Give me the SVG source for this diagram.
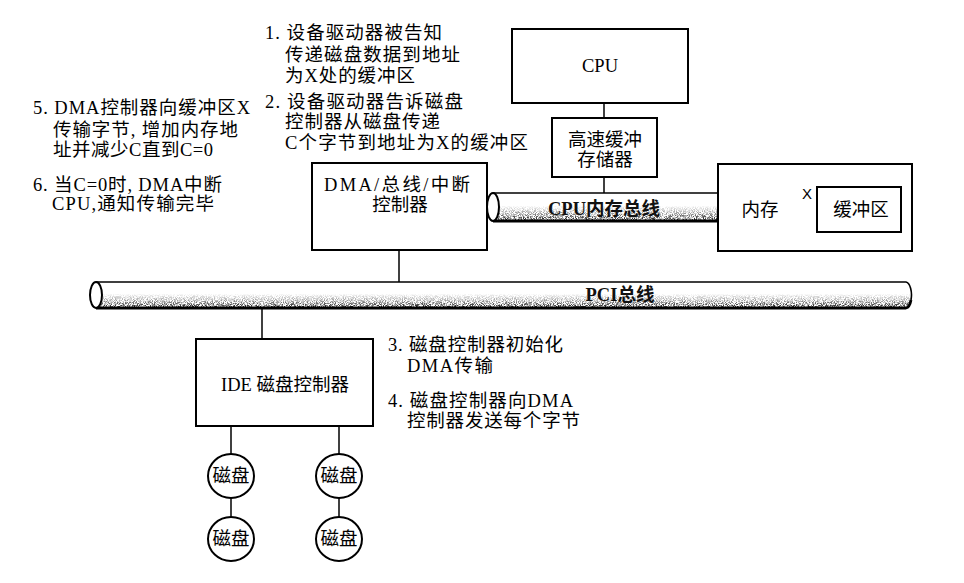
<svg xmlns="http://www.w3.org/2000/svg" width="964" height="583" viewBox="0 0 964 583">
<style>
.box{fill:#fff;stroke:#000;stroke-width:2}
.ln{stroke:#000;stroke-width:1.5;fill:none}
.t{font-family:"Liberation Serif","Noto Sans CJK SC",serif;font-size:18.5px;fill:#000}
.c{text-anchor:middle}
.bl{font-weight:bold;fill:#111}
.x{font-family:"Liberation Sans","Noto Sans CJK SC",sans-serif;font-size:15px;fill:#000}
.busline{stroke:#000;stroke-width:1.6;fill:none}
.busbot{stroke:#000;stroke-width:2.8;fill:none}
</style>
<defs>
<linearGradient id="shade" x1="0" y1="0" x2="0" y2="1">
<stop offset="0.45" stop-color="#000" stop-opacity="0"/>
<stop offset="0.75" stop-color="#000" stop-opacity="0.45"/>
<stop offset="1" stop-color="#000" stop-opacity="1"/>
</linearGradient>
<filter id="grain" x="0" y="0" width="100%" height="100%">
<feTurbulence type="fractalNoise" baseFrequency="1.1" numOctaves="2" seed="4" result="n"/>
<feColorMatrix in="n" type="matrix" values="0 0 0 0 0  0 0 0 0 0  0 0 0 0 0  4 0 0 0 -1.6" result="na"/>
<feComposite in="SourceGraphic" in2="na" operator="in"/>
</filter>
<clipPath id="cpuclip"><rect x="493" y="193" width="225" height="28"/></clipPath>
<clipPath id="pciclip"><path d="M96,282 H906 A6,13 0 0 1 906,308 H96 Z"/></clipPath>
</defs>
<rect width="964" height="583" fill="#fff"/>

<g id="connectors">
<line class="ln" x1="604" y1="103" x2="604" y2="118"/>
<line class="ln" x1="604" y1="177" x2="604" y2="193"/>
<line class="ln" x1="399" y1="250" x2="399" y2="282"/>
<line class="ln" x1="262" y1="308" x2="262" y2="339"/>
<line class="ln" x1="231" y1="426" x2="231" y2="454"/>
<line class="ln" x1="339" y1="426" x2="339" y2="454"/>
<line class="ln" x1="231" y1="498" x2="231" y2="517"/>
<line class="ln" x1="339" y1="498" x2="339" y2="517"/>
</g>

<g id="cpu-bus">
<rect x="493" y="193" width="225" height="28" fill="#fff"/>
<rect x="493" y="193" width="225" height="28" fill="url(#shade)" filter="url(#grain)" clip-path="url(#cpuclip)"/>
<line class="busline" x1="493" y1="193" x2="718" y2="193"/>
<line class="busbot" x1="493" y1="221" x2="718" y2="221"/>
<ellipse cx="493" cy="207" rx="6" ry="14" fill="#fff" stroke="#000" stroke-width="2"/>
<text class="t c bl" x="604" y="215">CPU内存总线</text>
</g>

<g id="pci-bus">
<path d="M96,282 H906 A6,13 0 0 1 906,308 H96 Z" fill="#fff"/>
<rect x="96" y="282" width="816" height="26" fill="url(#shade)" filter="url(#grain)" clip-path="url(#pciclip)"/>
<path class="busline" d="M96,282 H906 A6,13 0 0 1 911,300"/>
<path class="busbot" d="M911,300 A6,13 0 0 1 906,308 H96"/>
<ellipse cx="96" cy="295" rx="6" ry="13" fill="#fff" stroke="#000" stroke-width="2"/>
<text class="t c bl" x="620" y="301">PCI总线</text>
</g>

<g id="cpu">
<rect class="box" x="512" y="29" width="176" height="74"/>
<text class="t c" x="600" y="72" font-size="19">CPU</text>
</g>

<g id="cache">
<rect class="box" x="552" y="118" width="105" height="59"/>
<text class="t c" x="605" y="146">高速缓冲</text>
<text class="t c" x="605" y="166">存储器</text>
</g>

<g id="dma">
<rect class="box" x="312" y="163" width="175" height="87"/>
<text class="t c" x="397" y="191" textLength="146" lengthAdjust="spacing">DMA/总线/中断</text>
<text class="t c" x="400" y="211">控制器</text>
</g>

<g id="memory">
<rect class="box" x="718" y="164" width="194" height="87"/>
<text class="t c" x="760" y="216">内存</text>
<text class="x c" x="807" y="199">X</text>
<g id="buffer">
<rect class="box" x="817" y="187" width="84" height="45"/>
<text class="t c" x="861" y="216">缓冲区</text>
</g>
</g>

<g id="ide">
<rect class="box" x="196" y="339" width="177" height="87"/>
<text class="t c" x="285" y="391">IDE 磁盘控制器</text>
</g>

<g id="disk1"><ellipse class="box" cx="231" cy="476" rx="23" ry="22"/><text class="t c" x="231" y="482">磁盘</text></g>
<g id="disk2"><ellipse class="box" cx="231" cy="539" rx="23" ry="22"/><text class="t c" x="231" y="545">磁盘</text></g>
<g id="disk3"><ellipse class="box" cx="339" cy="476" rx="23" ry="22"/><text class="t c" x="339" y="482">磁盘</text></g>
<g id="disk4"><ellipse class="box" cx="339" cy="539" rx="23" ry="22"/><text class="t c" x="339" y="545">磁盘</text></g>

<g id="notes">
<text class="t" x="265" y="39" textLength="177" lengthAdjust="spacing">1. 设备驱动器被告知</text>
<text class="t" x="285" y="61" textLength="175" lengthAdjust="spacing">传递磁盘数据到地址</text>
<text class="t" x="285" y="82" textLength="130" lengthAdjust="spacing">为X处的缓冲区</text>
<text class="t" x="265" y="108" textLength="198" lengthAdjust="spacing">2. 设备驱动器告诉磁盘</text>
<text class="t" x="285" y="128" textLength="155" lengthAdjust="spacing">控制器从磁盘传递</text>
<text class="t" x="285" y="149" textLength="243" lengthAdjust="spacing">C个字节到地址为X的缓冲区</text>

<text class="t" x="33" y="114" textLength="217" lengthAdjust="spacing">5. DMA控制器向缓冲区X</text>
<text class="t" x="53" y="136" textLength="185" lengthAdjust="spacing">传输字节, 增加内存地</text>
<text class="t" x="53" y="156" textLength="160" lengthAdjust="spacing">址并减少C直到C=0</text>

<text class="t" x="33" y="191" textLength="189" lengthAdjust="spacing">6. 当C=0时, DMA中断</text>
<text class="t" x="52" y="210" textLength="162" lengthAdjust="spacing">CPU,通知传输完毕</text>

<text class="t" x="388" y="351" textLength="175" lengthAdjust="spacing">3. 磁盘控制器初始化</text>
<text class="t" x="407" y="372" textLength="86" lengthAdjust="spacing">DMA传输</text>
<text class="t" x="388" y="407" textLength="185" lengthAdjust="spacing">4. 磁盘控制器向DMA</text>
<text class="t" x="407" y="427" textLength="173" lengthAdjust="spacing">控制器发送每个字节</text>
</g>
</svg>
